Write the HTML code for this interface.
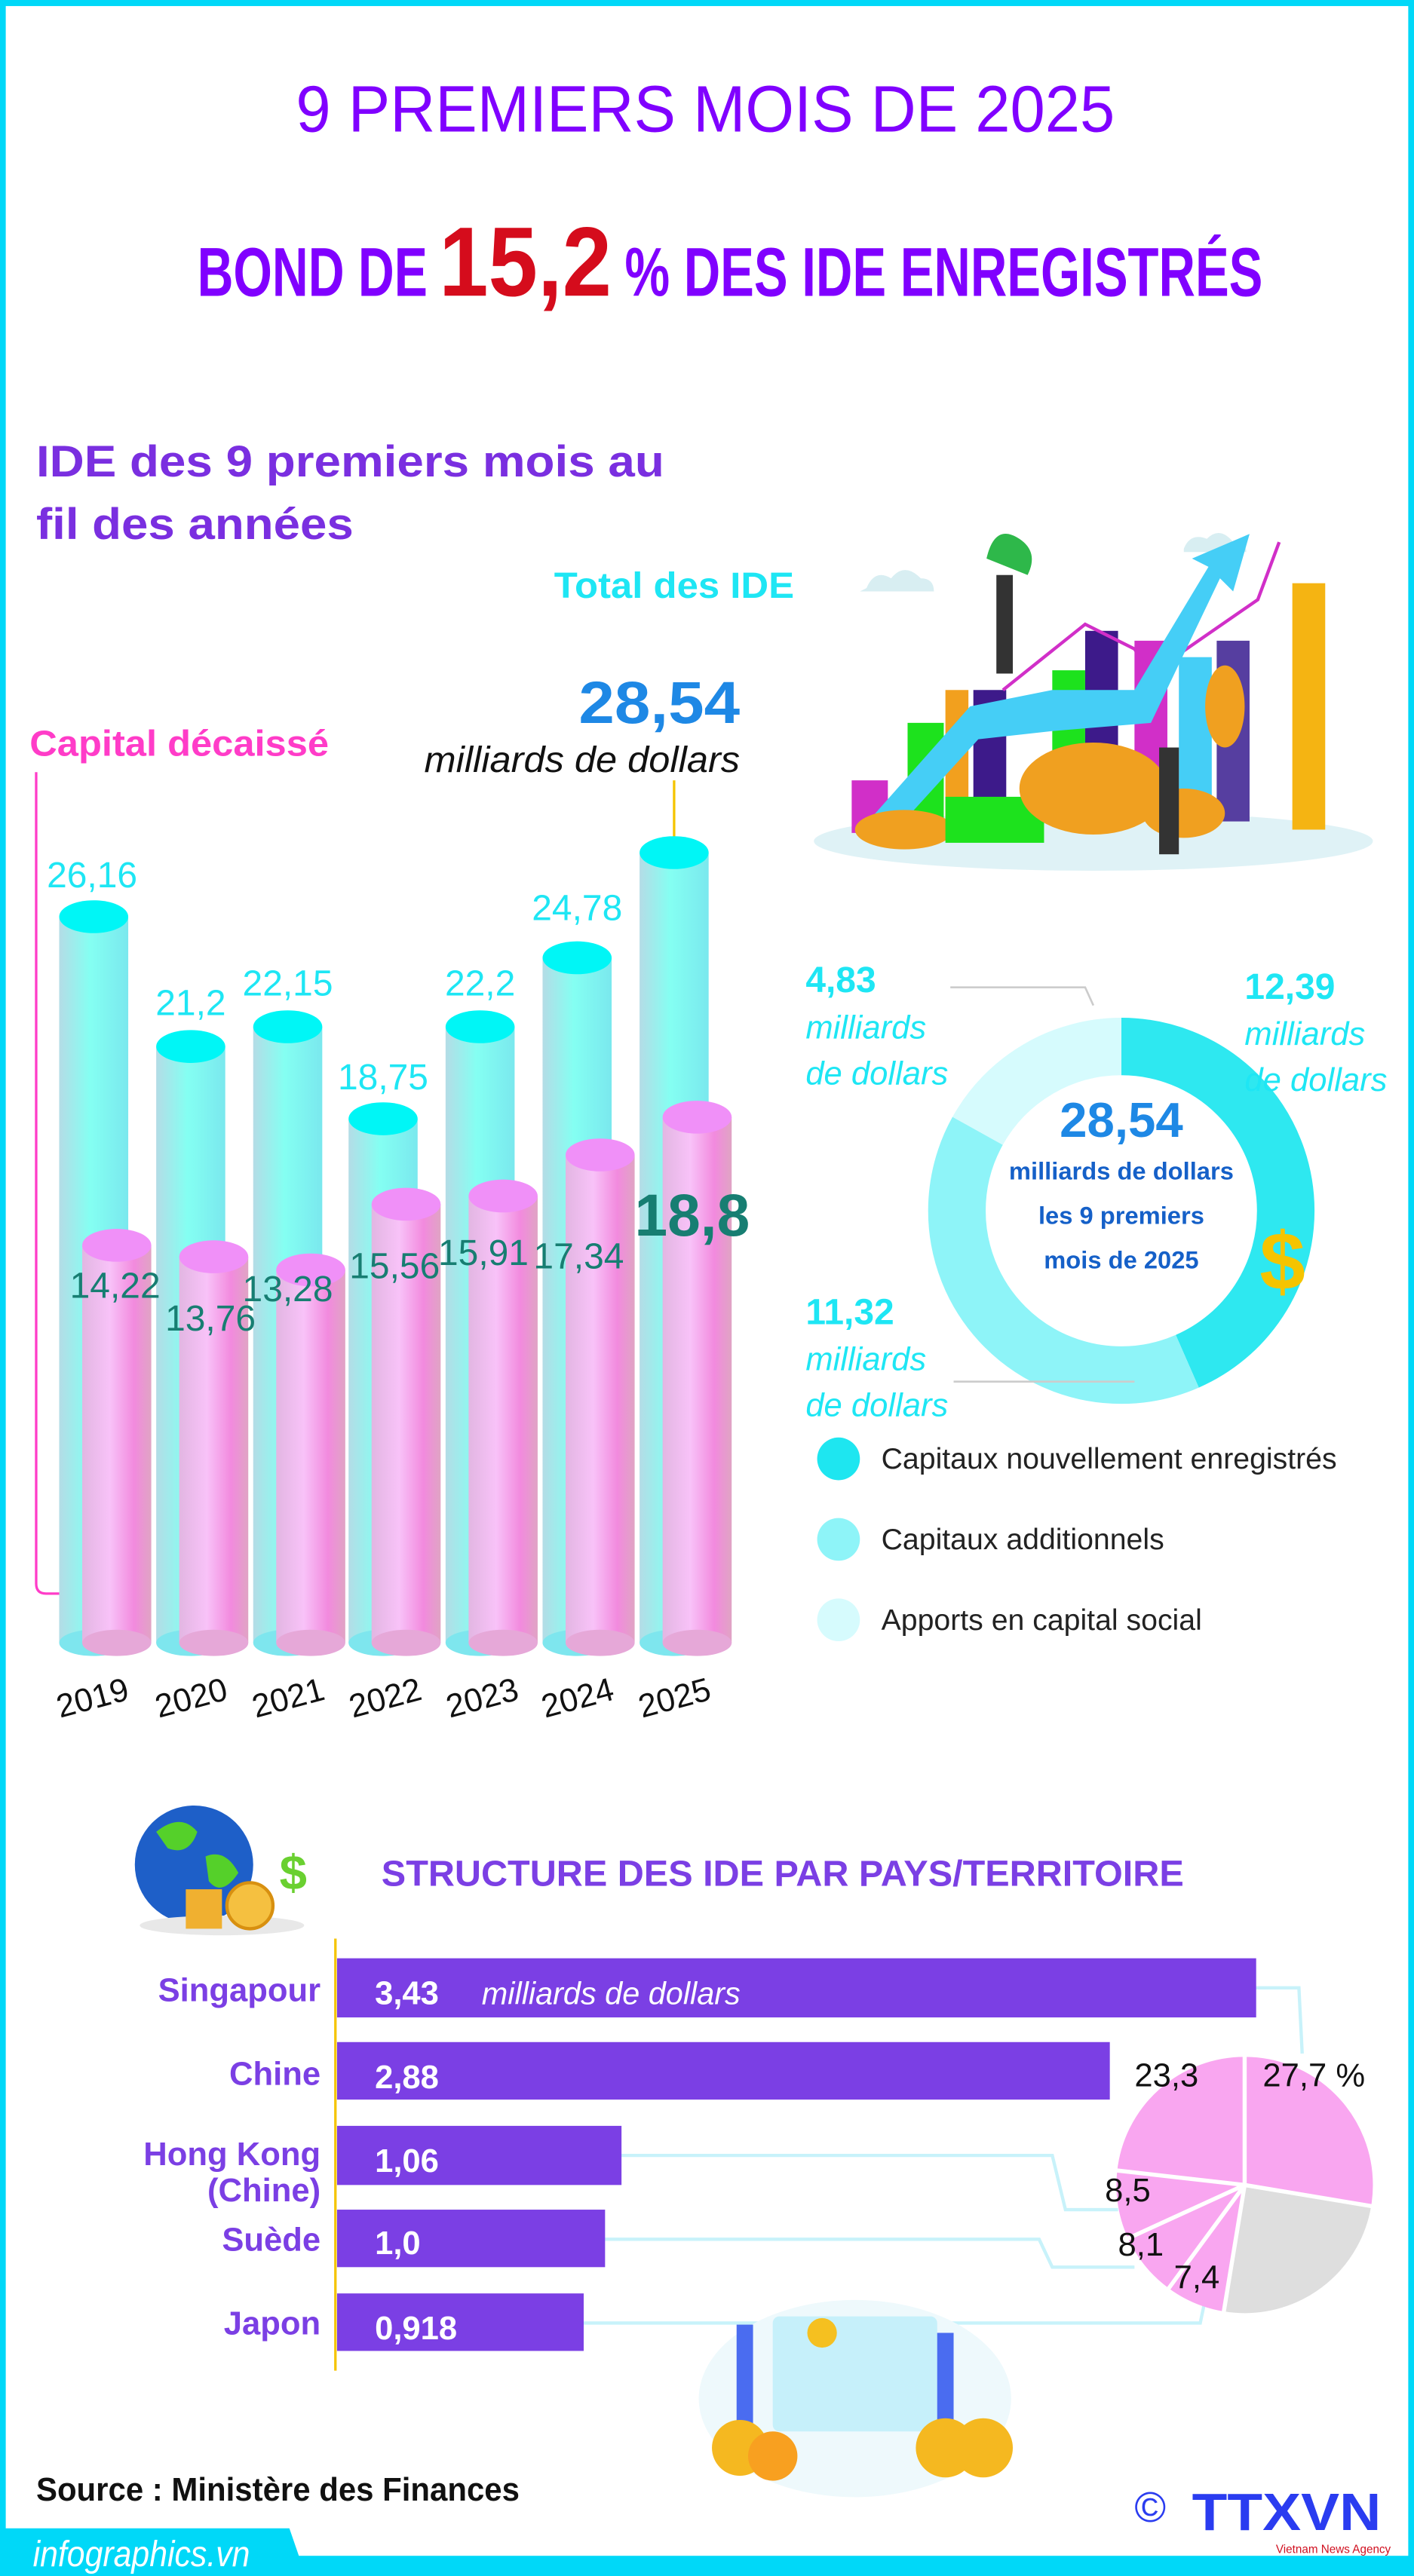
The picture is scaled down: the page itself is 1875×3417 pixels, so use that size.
<!DOCTYPE html>
<html><head><meta charset="utf-8"><style>
html,body{margin:0;padding:0;background:#fff}
svg{display:block}
text{font-family:"Liberation Sans",sans-serif}
</style></head><body>
<svg width="1875" height="3417" viewBox="0 0 860 1568" preserveAspectRatio="none" xmlns="http://www.w3.org/2000/svg">
<defs>
<linearGradient id="cy" x1="0" x2="1"><stop offset="0" stop-color="#b4dce6"/><stop offset="0.45" stop-color="#84fff2"/><stop offset="1" stop-color="#7ae8ee"/></linearGradient>
<linearGradient id="pk" x1="0" x2="1"><stop offset="0" stop-color="#e2b6e2"/><stop offset="0.4" stop-color="#f8c2f8"/><stop offset="0.75" stop-color="#f28ade"/><stop offset="1" stop-color="#e0a4c4"/></linearGradient>
</defs>
<rect x="0" y="0" width="860" height="1568" fill="#00d8f8"/>
<rect x="3.5" y="3.7" width="853" height="1552" fill="#fff"/>
<polygon points="0,1539 176,1539 186,1568 0,1568" fill="#00d8f8"/>
<text x="20" y="1562" font-size="22" font-style="italic" fill="#fff" textLength="132" lengthAdjust="spacingAndGlyphs">infographics.vn</text>

<text x="180" y="80" font-size="40" fill="#8000ff" textLength="498" lengthAdjust="spacingAndGlyphs">9 PREMIERS MOIS DE 2025</text>
<text x="120" y="180" font-size="42" font-weight="bold" fill="#8000ff" textLength="140" lengthAdjust="spacingAndGlyphs">BOND DE</text>
<text x="267" y="180" font-size="60" font-weight="bold" fill="#d50c1c" textLength="105" lengthAdjust="spacingAndGlyphs">15,2</text>
<text x="380" y="180" font-size="42" font-weight="bold" fill="#8000ff" textLength="388" lengthAdjust="spacingAndGlyphs">% DES IDE ENREGISTRÉS</text>

<text x="22" y="290" font-size="27" font-weight="bold" fill="#7a2fe0" textLength="382" lengthAdjust="spacingAndGlyphs">IDE des 9 premiers mois au</text>
<text x="22" y="328" font-size="27" font-weight="bold" fill="#7a2fe0" textLength="193" lengthAdjust="spacingAndGlyphs">fil des années</text>
<text x="337" y="364" font-size="22" font-weight="bold" fill="#1ee6f4" textLength="146" lengthAdjust="spacingAndGlyphs">Total des IDE</text>
<text x="352" y="440" font-size="36" font-weight="bold" fill="#1e88e5" textLength="98" lengthAdjust="spacingAndGlyphs">28,54</text>
<text x="258" y="470" font-size="22" font-style="italic" fill="#111" textLength="192" lengthAdjust="spacingAndGlyphs">milliards de dollars</text>
<text x="18" y="460" font-size="22" font-weight="bold" fill="#ff3cc8" textLength="182" lengthAdjust="spacingAndGlyphs">Capital décaissé</text>
<path d="M22,470 V964 Q22,970 28,970 H64" stroke="#ff3cc8" stroke-width="1.5" fill="none"/>
<line x1="410" y1="475" x2="410" y2="512" stroke="#f5c400" stroke-width="1.5"/>

<g>
<g fill="url(#cy)">
<rect x="36" y="558" width="42" height="442"/><rect x="95" y="637" width="42" height="363"/><rect x="154" y="625" width="42" height="375"/><rect x="212" y="681" width="42" height="319"/><rect x="271" y="625" width="42" height="375"/><rect x="330" y="583" width="42" height="417"/><rect x="389" y="519" width="42" height="481"/>
</g>
<g fill="#7ee6ee"><ellipse cx="57" cy="1000" rx="21" ry="8"/><ellipse cx="116" cy="1000" rx="21" ry="8"/><ellipse cx="175" cy="1000" rx="21" ry="8"/><ellipse cx="233" cy="1000" rx="21" ry="8"/><ellipse cx="292" cy="1000" rx="21" ry="8"/><ellipse cx="351" cy="1000" rx="21" ry="8"/><ellipse cx="410" cy="1000" rx="21" ry="8"/></g>
<g fill="#00f6f6"><ellipse cx="57" cy="558" rx="21" ry="10"/><ellipse cx="116" cy="637" rx="21" ry="10"/><ellipse cx="175" cy="625" rx="21" ry="10"/><ellipse cx="233" cy="681" rx="21" ry="10"/><ellipse cx="292" cy="625" rx="21" ry="10"/><ellipse cx="351" cy="583" rx="21" ry="10"/><ellipse cx="410" cy="519" rx="21" ry="10"/></g>
<g fill="url(#pk)">
<rect x="50" y="758" width="42" height="242"/><rect x="109" y="765" width="42" height="235"/><rect x="168" y="773" width="42" height="227"/><rect x="226" y="733" width="42" height="267"/><rect x="285" y="728" width="42" height="272"/><rect x="344" y="703" width="42" height="297"/><rect x="403" y="680" width="42" height="320"/>
</g>
<g fill="#e6a8d8"><ellipse cx="71" cy="1000" rx="21" ry="8"/><ellipse cx="130" cy="1000" rx="21" ry="8"/><ellipse cx="189" cy="1000" rx="21" ry="8"/><ellipse cx="247" cy="1000" rx="21" ry="8"/><ellipse cx="306" cy="1000" rx="21" ry="8"/><ellipse cx="365" cy="1000" rx="21" ry="8"/><ellipse cx="424" cy="1000" rx="21" ry="8"/></g>
<g fill="#f090f8"><ellipse cx="71" cy="758" rx="21" ry="10"/><ellipse cx="130" cy="765" rx="21" ry="10"/><ellipse cx="189" cy="773" rx="21" ry="10"/><ellipse cx="247" cy="733" rx="21" ry="10"/><ellipse cx="306" cy="728" rx="21" ry="10"/><ellipse cx="365" cy="703" rx="21" ry="10"/><ellipse cx="424" cy="680" rx="21" ry="10"/></g>
</g>
<g font-size="22" fill="#1ee6f4" text-anchor="middle">
<text x="56" y="540">26,16</text><text x="116" y="618">21,2</text><text x="175" y="606">22,15</text><text x="233" y="663">18,75</text><text x="292" y="606">22,2</text><text x="351" y="560">24,78</text>
</g>
<g font-size="22" fill="#177e72" text-anchor="middle">
<text x="70" y="790">14,22</text><text x="128" y="810">13,76</text><text x="175" y="792">13,28</text><text x="240" y="778">15,56</text><text x="294" y="770">15,91</text><text x="352" y="772">17,34</text>
</g>
<text x="421" y="752" font-size="36" font-weight="bold" fill="#177e72" text-anchor="middle">18,8</text>
<g font-size="20" fill="#111" text-anchor="middle">
<text transform="translate(58,1040) rotate(-15)">2019</text><text transform="translate(118,1040) rotate(-15)">2020</text><text transform="translate(177,1040) rotate(-15)">2021</text><text transform="translate(236,1040) rotate(-15)">2022</text><text transform="translate(295,1040) rotate(-15)">2023</text><text transform="translate(353,1040) rotate(-15)">2024</text><text transform="translate(412,1040) rotate(-15)">2025</text>
</g>

<ellipse cx="665" cy="512" rx="170" ry="18" fill="#dff2f6"/>
<path d="M527,358 q5,-12 15,-6 q8,-10 18,0 q8,0 8,8 h-45z" fill="#d8eef2"/>
<path d="M720,334 q4,-10 14,-6 q8,-8 16,2 q8,0 8,6 h-38z" fill="#d8eef2"/>
<g>
<rect x="518" y="475" width="22" height="32" fill="#d12fc8"/>
<rect x="552" y="440" width="22" height="60" fill="#1de21d"/>
<rect x="575" y="420" width="14" height="80" fill="#f2a01e"/>
<rect x="592" y="420" width="20" height="80" fill="#3d1a8a"/>
<rect x="640" y="408" width="20" height="82" fill="#1de21d"/>
<rect x="660" y="384" width="20" height="96" fill="#3d1a8a"/>
<rect x="690" y="390" width="20" height="110" fill="#d12fc8"/>
<rect x="717" y="400" width="20" height="100" fill="#45cef6"/>
<rect x="740" y="390" width="20" height="110" fill="#563ea0"/>
<rect x="786" y="355" width="20" height="150" fill="#f5b412"/>
<polyline points="610,420 660,380 690,395 700,410 765,365 778,330" stroke="#d12fc8" stroke-width="2" fill="none"/>
<path d="M528,500 L590,430 L640,420 L690,420 L735,345 L725,340 L760,325 L750,360 L742,352 L700,440 L640,445 L595,450 L545,505z" fill="#45cef6"/>
<ellipse cx="550" cy="505" rx="30" ry="12" fill="#f0a020"/>
<rect x="575" y="485" width="60" height="28" fill="#1de21d"/>
<ellipse cx="665" cy="480" rx="45" ry="28" fill="#f0a020"/>
<ellipse cx="720" cy="495" rx="25" ry="15" fill="#f0a020"/>
<ellipse cx="745" cy="430" rx="12" ry="25" fill="#f0a020"/>
<path d="M600,340 q5,-22 20,-12 q12,8 5,22z" fill="#2eb84a"/>
<rect x="705" y="455" width="12" height="65" fill="#333"/>
<rect x="606" y="350" width="10" height="60" fill="#333"/>
</g>

<g transform="rotate(-90 682 737)" fill="none" stroke-width="35">
<circle cx="682" cy="737" r="100" stroke="#2ee8f0" stroke-dasharray="272.8 355.5" stroke-dashoffset="0"/>
<circle cx="682" cy="737" r="100" stroke="#8ef4f8" stroke-dasharray="249.1 379.2" stroke-dashoffset="-272.8"/>
<circle cx="682" cy="737" r="100" stroke="#d6fbfd" stroke-dasharray="106.4 521.9" stroke-dashoffset="-521.9"/>
</g>
<g fill="#1560c8" text-anchor="middle" font-weight="bold">
<text x="682" y="692" font-size="30" fill="#1e88e5">28,54</text>
<text x="682" y="718" font-size="15">milliards de dollars</text>
<text x="682" y="745" font-size="15">les 9 premiers</text>
<text x="682" y="772" font-size="15">mois de 2025</text>
</g>
<text x="780" y="785" font-size="50" font-weight="bold" fill="#f5c400" text-anchor="middle">$</text>
<polyline points="578,601 660,601 665,612" stroke="#ccc" stroke-width="1.2" fill="none"/>
<line x1="580" y1="841" x2="690" y2="841" stroke="#ccc" stroke-width="1.2"/>
<g fill="#1ee6f4">
<text x="490" y="604" font-size="22" font-weight="bold">4,83</text>
<text x="490" y="632" font-size="20" font-style="italic">milliards</text>
<text x="490" y="660" font-size="20" font-style="italic">de dollars</text>
<text x="757" y="608" font-size="22" font-weight="bold">12,39</text>
<text x="757" y="636" font-size="20" font-style="italic">milliards</text>
<text x="757" y="664" font-size="20" font-style="italic">de dollars</text>
<text x="490" y="806" font-size="22" font-weight="bold">11,32</text>
<text x="490" y="834" font-size="20" font-style="italic">milliards</text>
<text x="490" y="862" font-size="20" font-style="italic">de dollars</text>
</g>
<circle cx="510" cy="888" r="13" fill="#1ee6f0"/>
<circle cx="510" cy="937" r="13" fill="#8ef4f8"/>
<circle cx="510" cy="986" r="13" fill="#d6fbfd"/>
<g font-size="18" fill="#222">
<text x="536" y="894">Capitaux nouvellement enregistrés</text>
<text x="536" y="943">Capitaux additionnels</text>
<text x="536" y="992">Apports en capital social</text>
</g>

<circle cx="118" cy="1135" r="36" fill="#1e5fc8"/>
<path d="M95,1115 q15,-12 25,0 q-5,15 -18,10z M125,1130 q12,-5 20,10 q-10,15 -18,5z" fill="#55d02a"/>
<ellipse cx="135" cy="1172" rx="50" ry="6" fill="#e8e8e8"/>
<rect x="113" y="1150" width="22" height="24" fill="#f0b030"/>
<circle cx="152" cy="1160" r="14" fill="#f5c040" stroke="#d89010" stroke-width="2"/>
<text x="170" y="1150" font-size="30" font-weight="bold" fill="#6ad030">$</text>
<text x="232" y="1148" font-size="22" font-weight="bold" fill="#7b3fe4" textLength="488" lengthAdjust="spacingAndGlyphs">STRUCTURE DES IDE PAR PAYS/TERRITOIRE</text>
<line x1="204" y1="1180" x2="204" y2="1443" stroke="#f5c400" stroke-width="1.5"/>
<g fill="none" stroke="#c8f2fa" stroke-width="2">
<polyline points="764,1210 790,1210 792,1250"/>
<polyline points="378,1312 640,1312 648,1345 680,1345"/>
<polyline points="368,1363 632,1363 640,1380 690,1380"/>
<polyline points="355,1414 730,1414 735,1390"/>
</g>
<g fill="#7b3fe4">
<rect x="205" y="1192" width="559" height="36"/>
<rect x="205" y="1243" width="470" height="35"/>
<rect x="205" y="1294" width="173" height="36"/>
<rect x="205" y="1345" width="163" height="35"/>
<rect x="205" y="1396" width="150" height="35"/>
</g>
<g font-size="20" font-weight="bold" fill="#7b3fe4" text-anchor="end">
<text x="195" y="1218">Singapour</text>
<text x="195" y="1269">Chine</text>
<text x="195" y="1318">Hong Kong</text>
<text x="195" y="1340">(Chine)</text>
<text x="195" y="1370">Suède</text>
<text x="195" y="1421">Japon</text>
</g>
<g font-size="20" font-weight="bold" fill="#fff">
<text x="228" y="1220">3,43</text>
<text x="228" y="1271">2,88</text>
<text x="228" y="1322">1,06</text>
<text x="228" y="1372">1,0</text>
<text x="228" y="1424">0,918</text>
</g>
<text x="293" y="1220" font-size="19" font-style="italic" fill="#fff">milliards de dollars</text>
<g transform="rotate(-90 757 1330)" fill="none" stroke-width="78">
<circle cx="757" cy="1330" r="39" stroke="#f9a6f0" stroke-dasharray="67.9 177.1"/>
<circle cx="757" cy="1330" r="39" stroke="#dedede" stroke-dasharray="61.3 183.7" stroke-dashoffset="-67.9"/>
<circle cx="757" cy="1330" r="39" stroke="#f9a6f0" stroke-dasharray="18.1 226.9" stroke-dashoffset="-129.2"/>
<circle cx="757" cy="1330" r="39" stroke="#f9a6f0" stroke-dasharray="19.8 225.2" stroke-dashoffset="-147.3"/>
<circle cx="757" cy="1330" r="39" stroke="#f9a6f0" stroke-dasharray="20.8 224.2" stroke-dashoffset="-167.1"/>
<circle cx="757" cy="1330" r="39" stroke="#f9a6f0" stroke-dasharray="57.1 187.9" stroke-dashoffset="-187.9"/>
</g>
<g stroke="#fff" stroke-width="2.5">
<line x1="757" y1="1330" x2="757" y2="1250"/>
<line x1="757" y1="1330" x2="835" y2="1343"/>
<line x1="757" y1="1330" x2="744" y2="1409"/>
<line x1="757" y1="1330" x2="710" y2="1394"/>
<line x1="757" y1="1330" x2="685" y2="1363"/>
<line x1="757" y1="1330" x2="678" y2="1321"/>
</g>
<g font-size="20" fill="#111">
<text x="690" y="1270">23,3</text><text x="768" y="1270">27,7 %</text><text x="672" y="1340">8,5</text><text x="680" y="1373">8,1</text><text x="714" y="1393">7,4</text>
</g>
<ellipse cx="520" cy="1460" rx="95" ry="60" fill="#eef9fc"/>
<rect x="470" y="1410" width="100" height="70" rx="4" fill="#c6f0fa"/>
<rect x="448" y="1415" width="10" height="70" fill="#4a6cf0"/>
<rect x="570" y="1420" width="10" height="55" fill="#4a6cf0"/>
<circle cx="450" cy="1490" r="17" fill="#f5b820"/><circle cx="470" cy="1495" r="15" fill="#f8a020"/>
<circle cx="575" cy="1490" r="18" fill="#f5b820"/><circle cx="598" cy="1490" r="18" fill="#f5b820"/>
<circle cx="500" cy="1420" r="9" fill="#f5c020"/>
<text x="22" y="1522" font-size="20" font-weight="bold" fill="#111" textLength="294" lengthAdjust="spacingAndGlyphs">Source : Ministère des Finances</text>
<text x="690" y="1535" font-size="26" fill="#2a3cf0">©</text>
<text x="725" y="1540" font-size="32" font-weight="bold" fill="#2a3cf0" textLength="115" lengthAdjust="spacingAndGlyphs">TTXVN</text>
<text x="776" y="1554" font-size="7" fill="#d01020">Vietnam News Agency</text>
</svg>
</body></html>
